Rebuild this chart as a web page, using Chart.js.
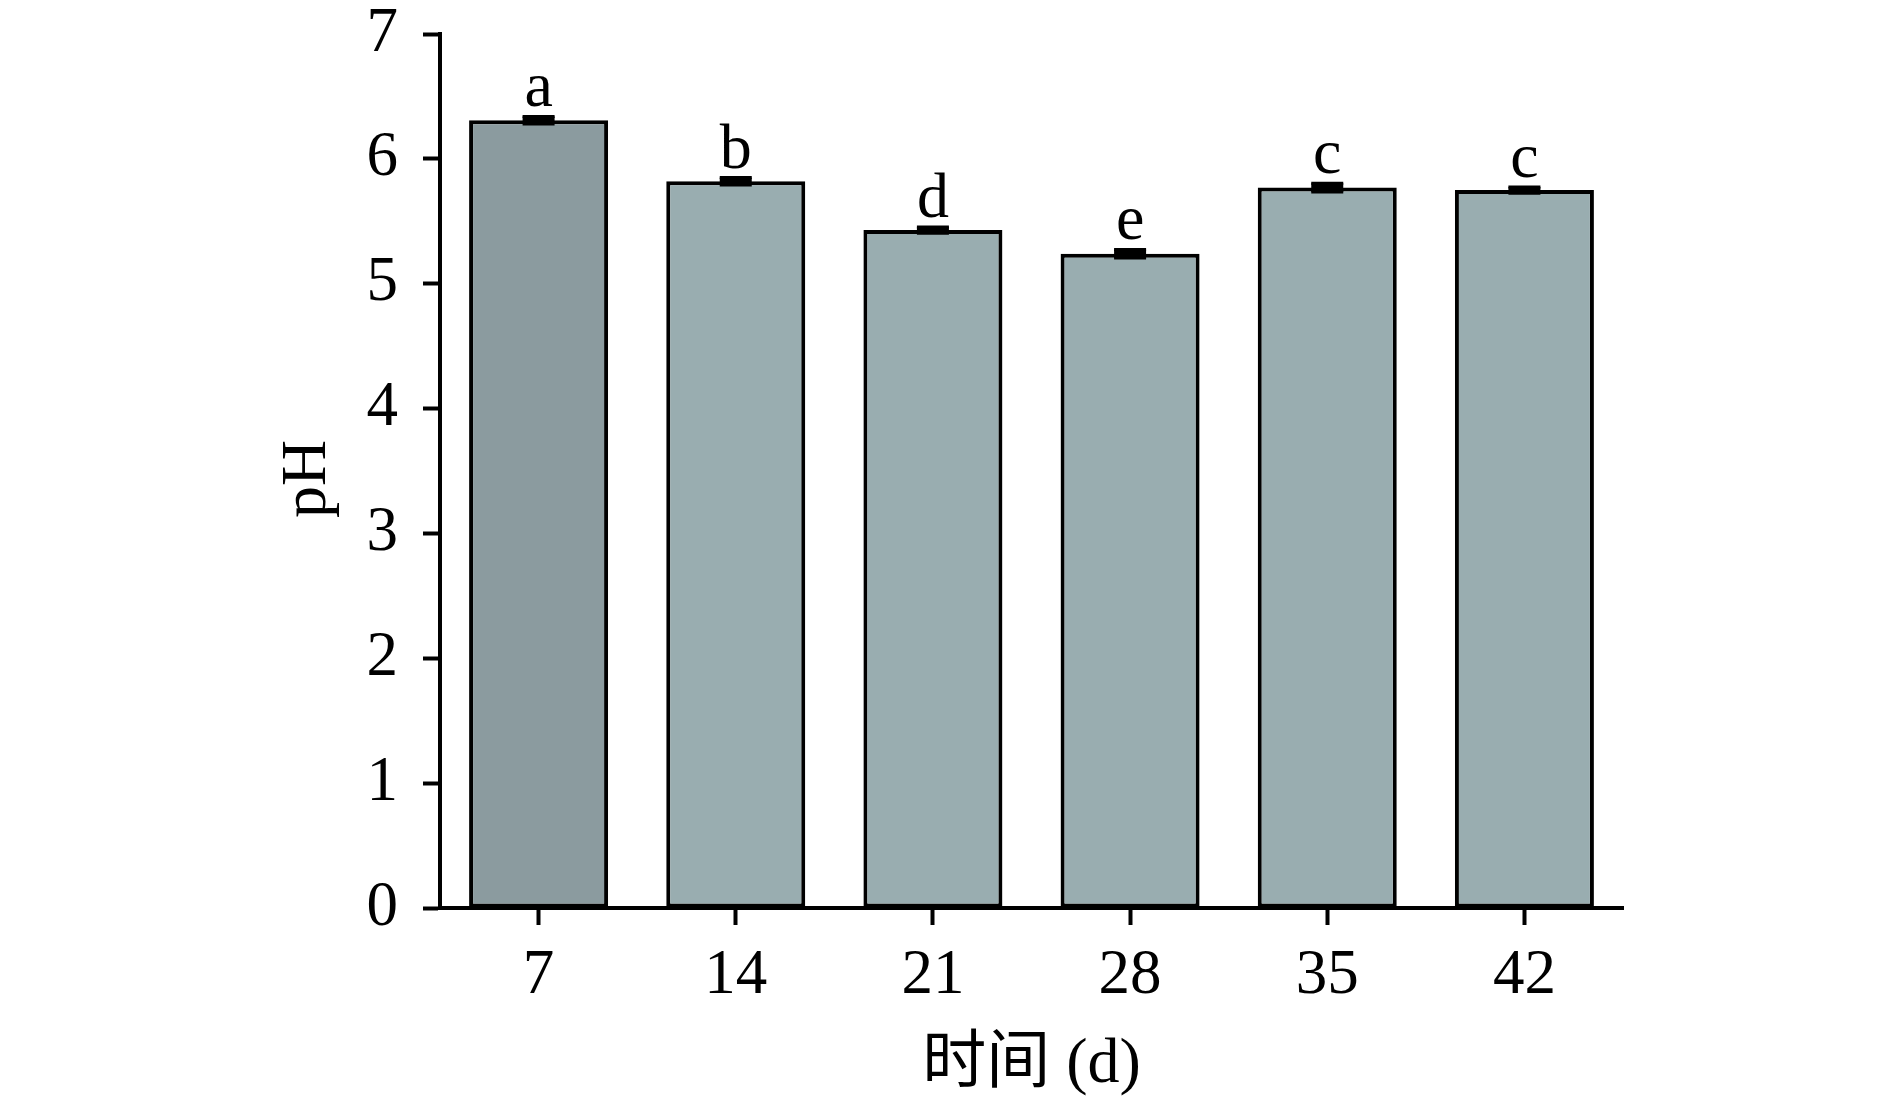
<!DOCTYPE html>
<html>
<head>
<meta charset="utf-8">
<script src="https://cdn.jsdelivr.net/npm/chart.js@4/dist/chart.umd.min.js"></script>
<style>
  html, body { margin: 0; padding: 0; background: #fff; }
  #wrap { width: 1890px; height: 1106px; }
</style>
</head>
<body>
<div id="wrap"><canvas id="phChart" width="1890" height="1106"></canvas></div>
<script>
// data
const days = ['7', '14', '21', '28', '35', '42'];
const phValues = [6.31, 5.82, 5.43, 5.24, 5.77, 5.75];
const phErrors = [0.03, 0.03, 0.025, 0.035, 0.035, 0.025];
const sigLetters = ['a', 'b', 'd', 'e', 'c', 'c'];
const barColors = ['#8b9b9f', '#99adb0', '#99adb0', '#99adb0', '#99adb0', '#99adb0'];
const yTicks = [0, 1, 2, 3, 4, 5, 6, 7];

const serif = "'Liberation Serif', 'Times New Roman', 'Noto Sans CJK SC', serif";

// error caps + significance letters
const errorBarPlugin = {
    id: 'errorBars',
    afterDatasetsDraw(chart) {
        const ctx = chart.ctx;
        const yScale = chart.scales.y;
        const meta = chart.getDatasetMeta(0);
        ctx.save();
        meta.data.forEach((bar, i) => {
            const hi = yScale.getPixelForValue(phValues[i] + phErrors[i]);
            const lo = yScale.getPixelForValue(phValues[i] - phErrors[i]);
            ctx.strokeStyle = '#000';
            ctx.lineWidth = 3;
            ctx.beginPath();
            ctx.moveTo(bar.x - 16, hi); ctx.lineTo(bar.x + 16, hi);
            ctx.moveTo(bar.x - 16, lo); ctx.lineTo(bar.x + 16, lo);
            ctx.moveTo(bar.x, hi); ctx.lineTo(bar.x, lo);
            ctx.stroke();
            ctx.fillStyle = '#000';
            ctx.fillRect(bar.x - 16, hi, 32, lo - hi);

            ctx.font = '64px ' + serif;
            ctx.textAlign = 'center';
            ctx.textBaseline = 'alphabetic';
            ctx.fillText(sigLetters[i], bar.x, hi - 10);
        });
        ctx.restore();
    }
};

new Chart(document.getElementById('phChart'), {
    type: 'bar',
    data: {
        labels: days,
        datasets: [{
            data: phValues,
            backgroundColor: barColors,
            borderColor: '#000',
            borderWidth: 4,
            borderSkipped: false,
            barPercentage: 0.705,
            categoryPercentage: 1.0
        }]
    },
    options: {
        responsive: false,
        animation: false,
        layout: { padding: { top: 34, right: 267, left: 0, bottom: 0 } },
        plugins: {
            legend: { display: false },
            tooltip: { enabled: false }
        },
        scales: {
            x: {
                grid: { offset: false, drawOnChartArea: false, drawTicks: true, tickLength: 17, tickWidth: 4, tickColor: '#000' },
                border: { display: true, color: '#000', width: 4 },
                ticks: { color: '#000', font: { family: serif, size: 63 }, padding: 14, maxRotation: 0 },
                title: { display: true, text: '时间 (d)', color: '#000', font: { family: serif, size: 64 }, padding: { top: 0, bottom: 2 } },
                afterFit(scale) {
                    scale.height = 198;
                    scale.paddingLeft = 0;
                    scale.paddingRight = 0;
                }
            },
            y: {
                min: 0,
                max: 7,
                afterBuildTicks(scale) { scale.ticks = yTicks.map(v => ({ value: v })); },
                grid: { drawOnChartArea: false, drawTicks: true, tickLength: 17, tickWidth: 4, tickColor: '#000' },
                border: { display: true, color: '#000', width: 4 },
                ticks: { color: '#000', font: { family: serif, size: 63 }, padding: 25 },
                title: { display: true, text: 'pH ', color: '#000', font: { family: serif, size: 64 }, padding: { top: 270, bottom: 0 } },
                afterFit(scale) {
                    scale.width = 440;
                    scale.paddingTop = 0;
                    scale.paddingBottom = 0;
                }
            }
        }
    },
    plugins: [errorBarPlugin]
});
</script>
</body>
</html>
